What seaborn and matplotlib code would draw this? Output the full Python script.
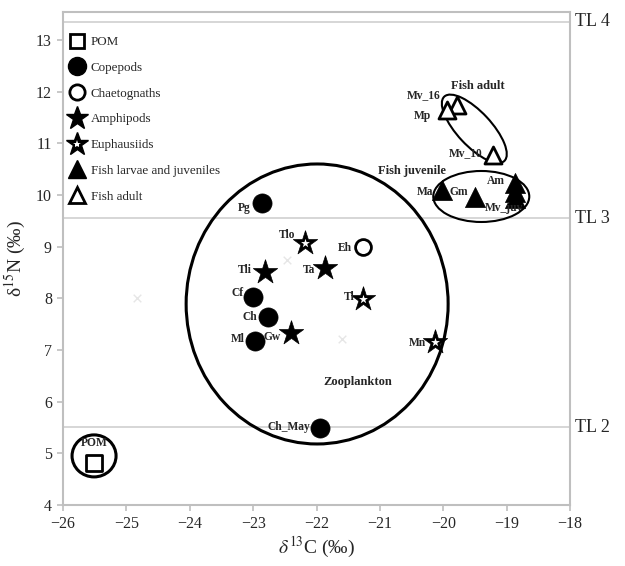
import numpy as np
import pandas as pd
import seaborn as sns
import matplotlib
matplotlib.use("Agg")
import matplotlib.pyplot as plt
from matplotlib.lines import Line2D
from matplotlib.patches import Ellipse
from matplotlib.transforms import ScaledTranslation
from matplotlib.legend_handler import HandlerTuple

# stable isotope values
pom_x = [-25.51]
pom_y = [4.82]
pom_lab = ["POM"]

cop_x = [-22.86, -23.00, -22.77, -22.97, -21.94]
cop_y = [9.84, 8.02, 7.64, 7.17, 5.49]
cop_lab = ["Pg", "Cf", "Ch", "Ml", "Ch_May"]

chaet_x = [-21.27]
chaet_y = [8.99]
chaet_lab = ["Eh"]

amph_x = [-22.81, -21.87, -22.40]
amph_y = [8.51, 8.58, 7.33]
amph_lab = ["Tli", "Ta", "Gw"]

euph_x = [-22.18, -21.27, -20.13]
euph_y = [9.07, 7.98, 7.15]
euph_lab = ["Tlo", "Tl", "Mn"]

juv_x = [-20.02, -19.50, -18.87, -18.87, -18.87]
juv_y = [10.09, 9.96, 10.23, 10.06, 9.94]
juv_lab = ["Ma", "Gm", "Am", "", "Mv_juv"]

adult_x = [-19.78, -19.94, -19.21]
adult_y = [11.74, 11.64, 10.77]
adult_lab = ["Mv_16", "Mp", "Mv_10"]

# faint grey crosses in the background
faint_x = [-24.83, -22.47, -21.60]
faint_y = [8.00, 8.74, 7.21]

tl_levels = [5.5, 9.55, 13.35]
tl_names = ["TL 2", "TL 3", "TL 4"]

# label offsets in pixels (dx right, dy up) relative to each point
offsets = {
    "POM": (0, 20), "Pg": (-18, -5), "Cf": (-16, 4), "Ch": (-18, 0),
    "Ml": (-17, 2), "Ch_May": (-31, 1), "Eh": (-18, -1), "Tli": (-20, 2),
    "Ta": (-16, -2), "Gw": (-19, -4), "Tlo": (-18, 8), "Tl": (-14, 2),
    "Mn": (-18, -1), "Ma": (-17, -2), "Gm": (-16, 5), "Am": (-19, 2),
    "Mv_juv": (-11, -10), "Mv_16": (-33, 10), "Mp": (-25, -6), "Mv_10": (-28, 2),
}

sns.set_style("white")
plt.rcParams["font.family"] = ["Liberation Serif", "DejaVu Serif"]
plt.rcParams["mathtext.fontset"] = "stix"

fig = plt.figure(figsize=(6.25, 5.66), dpi=100)
ax = fig.add_axes([63 / 625, 61 / 566, 507 / 625, 493 / 566])
ax.set_xlim(-26, -18)
ax.set_ylim(4, 13.54)

grey = "#bfbfbf"
for lvl, name in zip(tl_levels, tl_names):
    ax.axhline(lvl, color="#d0d0d0", lw=1.2, zorder=0)
    ax.text(-17.92, lvl, name, fontsize=13, va="center", ha="left", clip_on=False)

sns.scatterplot(x=faint_x, y=faint_y, marker="x", s=30, color="#e6e6e6", linewidth=1, ax=ax, zorder=1)

groups = [
    (pom_x, pom_y, pom_lab, "s", 120, "white", 2.0),
    (cop_x, cop_y, cop_lab, "o", 190, "black", 0.5),
    (chaet_x, chaet_y, chaet_lab, "o", 130, "white", 2.0),
    (amph_x, amph_y, amph_lab, "*", 340, "black", 0.5),
    (euph_x, euph_y, euph_lab, "*", 340, "black", 0.5),
    (juv_x, juv_y, juv_lab, "^", 210, "black", 0.5),
    (adult_x, adult_y, adult_lab, "^", 150, "white", 2.0),
]
for gx, gy, glab, mk, sz, fc, lw in groups:
    df = pd.DataFrame({"x": gx, "y": gy})
    sns.scatterplot(data=df, x="x", y="y", marker=mk, s=sz, facecolor=fc,
                    edgecolor="black", linewidth=lw, ax=ax, zorder=3)
    for xi, yi, lab in zip(gx, gy, glab):
        if not lab:
            continue
        dx, dy = offsets[lab]
        ax.annotate(lab, (xi, yi), xytext=(dx * 0.72, dy * 0.72), textcoords="offset points",
                    ha="center", va="center", fontsize=8.3, fontweight="bold", zorder=4)

# white centre of the euphausiid stars
sns.scatterplot(x=euph_x, y=euph_y, marker="*", s=45, color="white", linewidth=0, ax=ax, zorder=4)


def ring(cx, cy, w_px, h_px, angle, lw):
    tr = fig.dpi_scale_trans + ScaledTranslation(cx, cy, ax.transData)
    ax.add_patch(Ellipse((0, 0), w_px / 100, h_px / 100, angle=angle, transform=tr,
                         fill=False, edgecolor="black", lw=lw, zorder=2))


ring(-21.99, 7.89, 262, 280, 0, 2.2)
ring(-19.40, 9.97, 96, 51, 0, 1.5)
ring(-19.51, 11.28, 88, 34, -47, 1.5)
ring(-25.51, 4.95, 44, 42, 0, 2.2)

ax.text(-21.35, 6.38, "Zooplankton", fontsize=9, fontweight="bold", ha="center", va="center")
ax.text(-20.49, 10.47, "Fish juvenile", fontsize=9, fontweight="bold", ha="center", va="center")
ax.text(-19.45, 12.1, "Fish adult", fontsize=9, fontweight="bold", ha="center", va="center")

ax.set_xticks(range(-26, -17))
ax.set_yticks(range(4, 14))
ax.tick_params(axis="both", direction="out", length=4, width=1.2, color=grey,
               labelsize=11.5, pad=4, bottom=True, left=True)
for sp in ax.spines.values():
    sp.set_color(grey)
    sp.set_linewidth(1.5)
ax.set_xlabel(r"$\delta^{13}$C (‰)", fontsize=14, labelpad=2)
ax.set_ylabel("δ$^{15}$N (‰)", fontsize=14, labelpad=6)

# legend
k = dict(color="black", linestyle="none")
handles = [
    Line2D([], [], marker="s", markersize=10, markerfacecolor="white", markeredgewidth=2, **k),
    Line2D([], [], marker="o", markersize=13, **k),
    Line2D([], [], marker="o", markersize=11, markerfacecolor="white", markeredgewidth=2, **k),
    Line2D([], [], marker="*", markersize=17, **k),
    (Line2D([], [], marker="*", markersize=17, **k),
     Line2D([], [], marker="*", markersize=6, color="white", linestyle="none", markeredgewidth=0)),
    Line2D([], [], marker="^", markersize=13, **k),
    Line2D([], [], marker="^", markersize=11, markerfacecolor="white", markeredgewidth=2, **k),
]
names = ["POM", "Copepods", "Chaetognaths", "Amphipods", "Euphausiids",
         "Fish larvae and juveniles", "Fish adult"]
ax.legend(handles, names, loc="upper left", bbox_to_anchor=(-0.004, 0.967), frameon=False,
          fontsize=9.4, labelspacing=1.04, handlelength=1.2, handletextpad=0.5,
          borderaxespad=0.2, handler_map={tuple: HandlerTuple(ndivide=1)})

fig.savefig("out.png", dpi=100)
